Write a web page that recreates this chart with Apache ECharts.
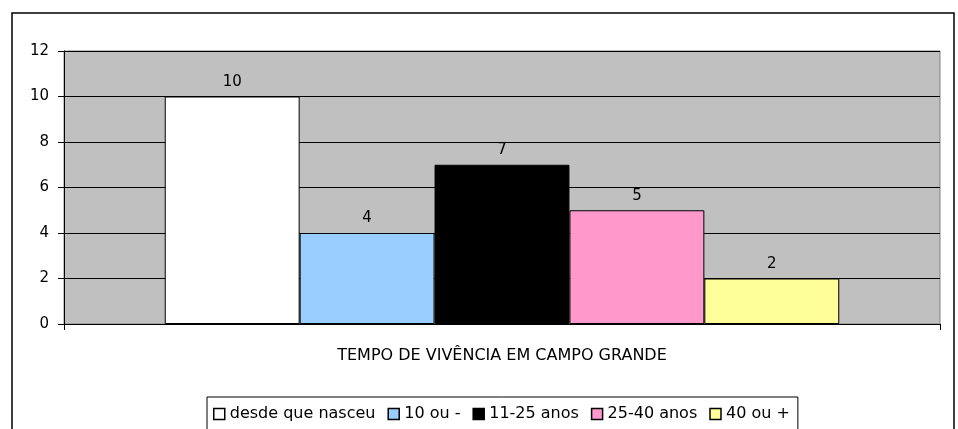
<!DOCTYPE html>
<html>
<head>
<meta charset="utf-8">
<script src="https://cdn.jsdelivr.net/npm/echarts@6/dist/echarts.min.js"></script>
<style>
  html, body { margin: 0; padding: 0; background: #fff; }
  #chart { width: 958px; height: 429px; }
</style>
</head>
<body>
<div id="chart"></div>
<script>
const categories = ['TEMPO DE VIVÊNCIA EM CAMPO GRANDE']
const seriesNames = ['desde que nasceu', '10 ou -', '11-25 anos', '25-40 anos', '40 ou +']
const seriesValues = [10, 4, 7, 5, 2]
const seriesColors = ['#ffffff', '#99ccff', '#000000', '#ff99cc', '#ffff99']
const yTicks = [0, 2, 4, 6, 8, 10, 12]

const font = 'DejaVu Sans, Verdana, sans-serif'
const chart = echarts.init(document.getElementById('chart'))

const option = {
  backgroundColor: '#fff',
  animation: false,
  textStyle: { fontFamily: font },
  graphic: [
    {
      type: 'rect',
      shape: { x: 12, y: 13, width: 942, height: 430 },
      style: { fill: 'none', stroke: '#000', lineWidth: 1.5 },
    },
  ],
  grid: {
    left: 64,
    right: 18,
    top: 51,
    bottom: 105,
    show: true,
    backgroundColor: '#c0c0c0',
    borderColor: '#808080',
    borderWidth: 1,
  },
  legend: {
    data: seriesNames,
    top: 397,
    left: 207,
    icon: 'rect',
    itemWidth: 11,
    itemHeight: 11,
    itemGap: 12,
    padding: [9, 8, 20, 6],
    borderColor: '#000',
    borderWidth: 1,
    textStyle: { fontSize: 16, color: '#000', fontFamily: font },
    itemStyle: { borderColor: '#000', borderWidth: 1.5 },
  },
  xAxis: {
    type: 'category',
    data: categories,
    axisLine: { lineStyle: { color: '#000' } },
    axisTick: { show: true, length: 6, lineStyle: { color: '#000' } },
    axisLabel: {
      show: true,
      margin: 24,
      fontSize: 16,
      color: '#000',
    },
  },
  yAxis: {
    type: 'value',
    min: yTicks[0],
    max: yTicks[yTicks.length - 1],
    interval: 2,
    axisLine: { show: true, lineStyle: { color: '#000' } },
    axisTick: { show: true, length: 6, lineStyle: { color: '#000' } },
    axisLabel: { fontSize: 15, color: '#000', margin: 15 },
    splitLine: { lineStyle: { color: '#000', width: 1 } },
  },
  series: seriesNames.map((name, i) => ({
    name,
    type: 'bar',
    data: [seriesValues[i]],
    barGap: '0%',
    barCategoryGap: '23%',
    itemStyle: { color: seriesColors[i], borderColor: '#000', borderWidth: 1 },
    label: {
      show: true,
      position: 'top',
      distance: 7,
      fontSize: 15,
      color: '#000',
    },
  })),
}

chart.setOption(option)
</script>
</body>
</html>
